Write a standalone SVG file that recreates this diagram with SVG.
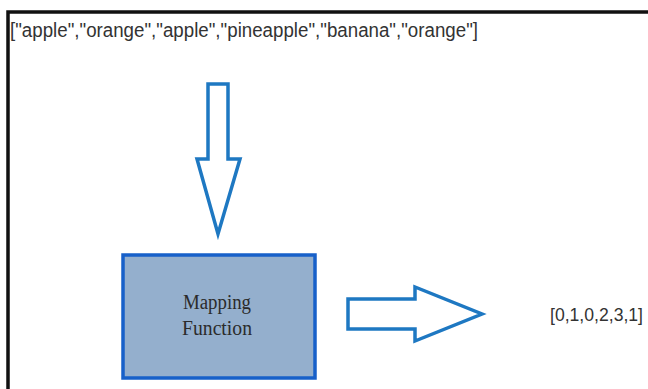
<svg xmlns="http://www.w3.org/2000/svg" width="648" height="389" viewBox="0 0 648 389">
<style>
.arrow{fill:#ffffff;stroke:#1e78c2;stroke-width:3.5;stroke-linejoin:miter}
.sans{font-family:"Liberation Sans",Arial,sans-serif;fill:#333333}
.serif{font-family:"Liberation Serif","Times New Roman",serif;fill:#2b2b2b;font-size:20px;text-anchor:middle}
</style>
<rect width="648" height="389" fill="#ffffff"/>
<g id="frame" fill="none" stroke="#111111" stroke-width="3.5">
<polyline points="8,389 8,12 648,12"/>
</g>
<g id="input">
<text class="sans" x="10" y="37" font-size="20" textLength="468" lengthAdjust="spacingAndGlyphs">["apple","orange","apple","pineapple","banana","orange"]</text>
</g>
<g id="mapping">
<rect x="123" y="255" width="192" height="123" fill="#94afcd" stroke="#1760c9" stroke-width="3.5"/>
<text class="serif" x="217" y="309" textLength="68" lengthAdjust="spacingAndGlyphs">Mapping</text>
<text class="serif" x="217" y="335" textLength="70" lengthAdjust="spacingAndGlyphs">Function</text>
</g>
<g id="output">
<text class="sans" x="550" y="321" font-size="18" textLength="93" lengthAdjust="spacingAndGlyphs">[0,1,0,2,3,1]</text>
</g>
<g id="connectors">
<polygon class="arrow" points="208,84 228,84 228,159 240,159 218,234 197,159 208,159"/>
<polygon class="arrow" points="348,299 415,299 415,287 482,314 415,341 415,329 348,329"/>
</g>
</svg>
